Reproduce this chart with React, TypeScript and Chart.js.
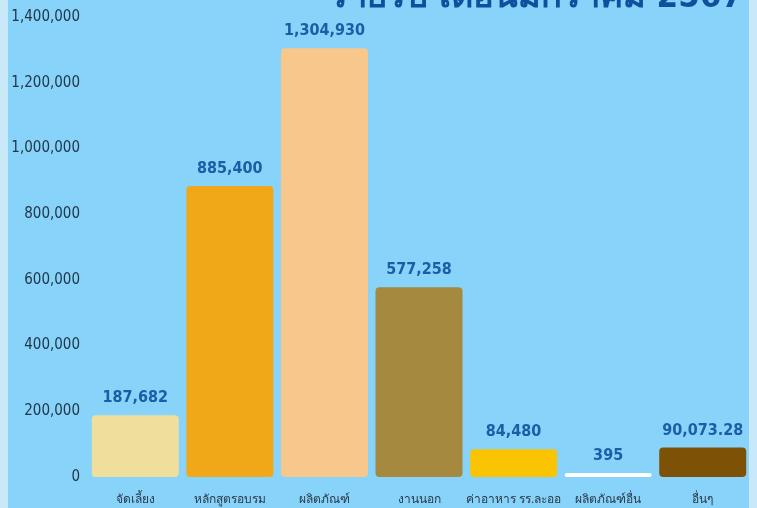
import React, { useEffect, useRef } from "react";
import { Chart, registerables } from "chart.js";

Chart.register(...registerables);

const categories = ["จัดเลี้ยง", "หลักสูตรอบรม", "ผลิตภัณฑ์", "งานนอก", "ค่าอาหาร รร.ละออ", "ผลิตภัณฑ์อื่น", "อื่นๆ"];
const values = [187682, 885400, 1304930, 577258, 84480, 395, 90073.28];
const barColors = ["#f0df9c", "#f0a818", "#f7c78b", "#a4893f", "#fbc403", "#ffffff", "#7e5206"];
const yTicks = [0, 200000, 400000, 600000, 800000, 1000000, 1200000, 1400000];
const titleText = "รายรับ เดือนมกราคม 2567";

const fmt = (v: number) =>
  v.toLocaleString("en-US", { maximumFractionDigits: 2, minimumFractionDigits: Number.isInteger(v) ? 0 : 2 });

const labelPlugin = {
  id: "barLabels",
  afterDatasetsDraw(chart: any) {
    const ctx = chart.ctx;
    const meta = chart.getDatasetMeta(0);
    ctx.save();
    ctx.fillStyle = "#1b5ea6";
    ctx.font = "bold 16px 'DejaVu Sans Condensed', sans-serif";
    ctx.textAlign = "center";
    ctx.textBaseline = "bottom";
    meta.data.forEach((el: any, i: number) => {
      ctx.fillText(fmt(values[i]), el.x, el.y - 9);
    });
    ctx.restore();
  },
};

const titlePlugin = {
  id: "cutTitle",
  afterDraw(chart: any) {
    const ctx = chart.ctx;
    ctx.save();
    ctx.fillStyle = "#0e4f9e";
    ctx.font = "bold 34.5px 'DejaVu Sans Condensed', sans-serif";
    ctx.textAlign = "right";
    ctx.textBaseline = "alphabetic";
    ctx.fillText(titleText, 743, 7);
    ctx.restore();
  },
};

export default function App() {
  const ref = useRef<HTMLCanvasElement | null>(null);

  useEffect(() => {
    document.body.style.margin = "0";
    const chart = new Chart(ref.current as HTMLCanvasElement, {
      type: "bar",
      data: {
        labels: categories,
        datasets: [
          {
            data: values,
            backgroundColor: barColors,
            borderRadius: 4,
            borderSkipped: false,
            barPercentage: 0.92,
            categoryPercentage: 1,
            minBarLength: 4,
          },
        ],
      },
      options: {
        animation: false,
        responsive: false,
        maintainAspectRatio: false,
        layout: { padding: { top: 17, right: 7, left: 0, bottom: 0 } },
        plugins: { legend: { display: false }, tooltip: { enabled: false } },
        scales: {
          x: {
            grid: { display: false },
            border: { display: false },
            ticks: {
              color: "#2b3a4a",
              font: { family: "'DejaVu Sans Condensed', sans-serif", size: 12 },
              padding: 8,
              maxRotation: 0,
              autoSkip: false,
            },
            afterFit: (s: any) => {
              s.height = 31;
            },
          },
          y: {
            min: 0,
            max: 1400000,
            grid: { display: false },
            border: { display: false },
            afterBuildTicks: (s: any) => {
              s.ticks = yTicks.map((v) => ({ value: v }));
            },
            ticks: {
              color: "#22364a",
              font: { family: "'DejaVu Sans Condensed', sans-serif", size: 15 },
              padding: 0,
              callback: (v: any) => Number(v).toLocaleString("en-US"),
            },
            afterFit: (s: any) => {
              s.width = 88;
            },
          },
        },
      },
      plugins: [labelPlugin, titlePlugin],
    });
    return () => chart.destroy();
  }, []);

  return (
    <div style={{ width: 757, height: 508, background: "#c9e9f8", position: "relative", overflow: "hidden" }}>
      <div style={{ position: "absolute", left: 8, top: 0, width: 741, height: 508, background: "#87d3f9" }} />
      <canvas ref={ref} width={757} height={508} style={{ position: "absolute", left: 0, top: 0 }} />
    </div>
  );
}
